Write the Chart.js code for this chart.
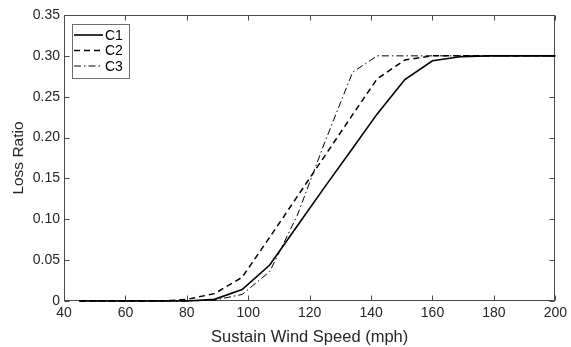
<!DOCTYPE html>
<html>
<head>
<meta charset="utf-8">
<script src="https://cdn.jsdelivr.net/npm/chart.js@4/dist/chart.umd.min.js"></script>
<style>
html,body{margin:0;padding:0;background:#fff;}
#c{display:block;}
</style>
</head>
<body>
<canvas id="c" width="571" height="347"></canvas>
<script>
// Data
const speeds = [45, 54, 63, 72, 80, 89, 98, 107, 116, 125, 134, 142, 151, 160, 169, 178, 187, 200];
const lossC1 = [0, 0, 0, 0, 0, 0.002, 0.014, 0.044, 0.092, 0.140, 0.187, 0.229, 0.271, 0.294, 0.299, 0.300, 0.300, 0.300];
const lossC2 = [0, 0, 0, 0, 0.002, 0.009, 0.029, 0.078, 0.128, 0.178, 0.228, 0.272, 0.295, 0.300, 0.300, 0.300, 0.300, 0.300];
const lossC3 = [0, 0, 0, 0, 0, 0.001, 0.008, 0.036, 0.105, 0.195, 0.280, 0.300, 0.300, 0.300, 0.300, 0.300, 0.300, 0.300];
const seriesNames = ['C1', 'C2', 'C3'];
const xTicks = [40, 60, 80, 100, 120, 140, 160, 180, 200];
const yTicks = [0, 0.05, 0.10, 0.15, 0.20, 0.25, 0.30, 0.35];

const FONT = "'Liberation Sans', Arial, sans-serif";
const TXT = '#262626';

function pts(ys) { return speeds.map((x, i) => ({ x: x, y: ys[i] })); }

const styles = [
  { borderWidth: 1.6, borderDash: [] },
  { borderWidth: 1.5, borderDash: [6, 4] },
  { borderWidth: 1.0, borderDash: [7, 3, 1.5, 3] }
];

const frameAndTicks = {
  id: 'frameAndTicks',
  beforeDatasetsDraw(chart) {
    const ctx = chart.ctx, a = chart.chartArea;
    const xs = chart.scales.x, ys = chart.scales.y;
    ctx.save();
    ctx.strokeStyle = '#4a4a4a';
    ctx.lineWidth = 1;
    const L = Math.round(a.left) + 0.5, R = Math.round(a.right) - 0.5;
    const T = Math.round(a.top) + 0.5, B = Math.round(a.bottom) - 0.5;
    ctx.strokeRect(L, T, R - L, B - T);
    const tl = 5;
    ctx.beginPath();
    xTicks.forEach(v => {
      const p = Math.round(xs.getPixelForValue(v)) + 0.5;
      ctx.moveTo(p, B); ctx.lineTo(p, B - tl);
      ctx.moveTo(p, T); ctx.lineTo(p, T + tl);
    });
    yTicks.forEach(v => {
      const p = Math.round(ys.getPixelForValue(v)) + 0.5;
      ctx.moveTo(L, p); ctx.lineTo(L + tl, p);
      ctx.moveTo(R, p); ctx.lineTo(R - tl, p);
    });
    ctx.stroke();
    ctx.restore();
  },
  afterDraw(chart) {
    const ctx = chart.ctx, a = chart.chartArea;
    ctx.save();
    // legend inside plot area
    const bx = a.left + 8, by = a.top + 9, bw = 57, bh = 54;
    ctx.fillStyle = '#fff';
    ctx.fillRect(bx, by, bw, bh);
    ctx.lineWidth = 1;
    ctx.strokeStyle = '#6e6e6e';
    ctx.strokeRect(Math.round(bx) + 0.5, Math.round(by) + 0.5, bw, bh);
    ctx.font = '14px ' + FONT;
    ctx.textBaseline = 'middle';
    ctx.fillStyle = '#000';
    chart.data.datasets.forEach((ds, i) => {
      const y = by + 11 + i * 15.5;
      ctx.beginPath();
      ctx.setLineDash(ds.borderDash || []);
      ctx.lineWidth = ds.borderWidth;
      ctx.strokeStyle = '#000';
      ctx.moveTo(bx + 2, y); ctx.lineTo(bx + 31, y);
      ctx.stroke();
      ctx.setLineDash([]);
      ctx.fillText(ds.label, bx + 33, y + 1);
    });
    ctx.restore();
  }
};

new Chart(document.getElementById('c'), {
  type: 'line',
  data: {
    datasets: [lossC1, lossC2, lossC3].map((ys, i) => ({
      label: seriesNames[i],
      data: pts(ys),
      borderColor: '#000',
      borderWidth: styles[i].borderWidth,
      borderDash: styles[i].borderDash,
      pointRadius: 0,
      fill: false,
      tension: 0,
      clip: false
    }))
  },
  options: {
    responsive: false,
    animation: false,
    devicePixelRatio: 1,
    layout: { padding: { top: 15, right: 15, left: 9, bottom: 0 } },
    plugins: { legend: { display: false }, tooltip: { enabled: false } },
    scales: {
      x: {
        type: 'linear', min: 40, max: 200,
        afterBuildTicks(s) { s.ticks = xTicks.map(v => ({ value: v })); },
        afterFit(s) { s.height = 46; },
        grid: { display: false, drawTicks: false },
        border: { display: false },
        ticks: { color: TXT, font: { family: FONT, size: 14 }, padding: 4, maxRotation: 0,
                 callback: v => String(v) },
        title: { display: true, text: 'Sustain Wind Speed (mph)', color: TXT,
                 font: { family: FONT, size: 16.5 }, padding: { top: 0, bottom: 0 } }
      },
      y: {
        type: 'linear', min: 0, max: 0.35,
        afterBuildTicks(s) { s.ticks = yTicks.map(v => ({ value: v })); },
        afterFit(s) { s.width = 55; },
        grid: { display: false, drawTicks: false },
        border: { display: false },
        ticks: { color: TXT, font: { family: FONT, size: 14 }, padding: 4,
                 callback: v => (v === 0 ? '0' : v.toFixed(2)) },
        title: { display: true, text: 'Loss Ratio', color: TXT,
                 font: { family: FONT, size: 15.5 }, padding: { top: 0, bottom: 0 } }
      }
    }
  },
  plugins: [frameAndTicks]
});
</script>
</body>
</html>
